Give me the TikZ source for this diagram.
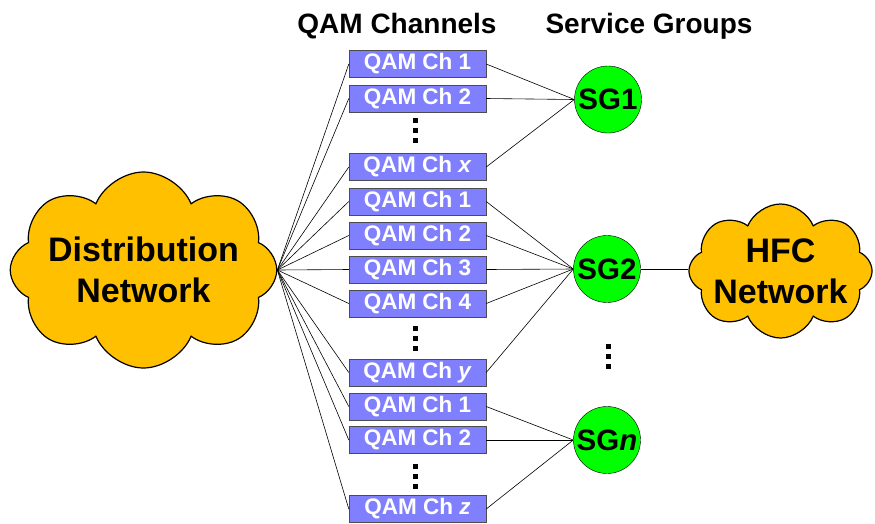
\documentclass[tikz,border=0pt]{standalone}
\usepackage{fontspec}
\setmainfont{Liberation Sans}
\usetikzlibrary{shapes.symbols}
\definecolor{qamblue}{HTML}{8080FF}
\definecolor{sggreen}{HTML}{00FF00}
\definecolor{cloudyellow}{HTML}{FFC000}
\tikzset{
  qam/.style={draw=black!70, fill=qamblue, text=white, inner sep=0pt,
    minimum width=137pt, minimum height=27pt,
    font=\fontsize{22.5}{22.5}\selectfont\bfseries},
  sg/.style={circle, draw, fill=sggreen, minimum size=67pt, inner sep=0pt,
    font=\fontsize{29.5}{29.5}\selectfont\bfseries},
  net/.style={cloud, cloud puffs=8, cloud puff arc=135, cloud ignores aspect,
    draw, line width=1.2pt, fill=cloudyellow, align=center, inner sep=0pt,
    font=\fontsize{34}{41}\selectfont\bfseries},
  head/.style={anchor=base, font=\fontsize{28}{28}\selectfont\bfseries},
  link/.style={line width=0.6pt},
}
% three small squares as vertical dots
\newcommand{\dotcol}[2]{\foreach \d in {-10,0,10}
  \fill[shift={(#1,#2)}] (-2.5,\d-2.5) rectangle ++(5,5);}
\begin{document}
\begin{tikzpicture}[x=1pt,y=-1pt]
  \useasboundingbox (0,0) rectangle (875,523);
  % headers
  \node[head] (qamhead) at (397,33) {QAM Channels};
  \node[head] (sghead) at (649,33) {Service Groups};
  % networks and service groups
  \node[net, inner xsep=-2.5pt, minimum width=261pt, minimum height=196pt] (dist) at (143.5,270) {Distribution\\Network};
  \node[net, inner xsep=-6pt, minimum width=163pt, minimum height=134pt] (hfc) at (780.5,271) {HFC\\Network};
  \node[sg] (sg1) at (608,99.5) {SG1};
  \node[sg] (sg2) at (607,269) {SG2};
  \node[sg] (sgn) at (607,440) {SG\textit{n}};
  % qam channels
  \node[qam] (a1) at (417.5,64) {QAM Ch 1};
  \node[qam] (a2) at (417.5,98.5) {QAM Ch 2};
  \node[qam] (ax) at (417.5,167) {QAM Ch \textit{x}};
  \node[qam] (b1) at (417.5,201.5) {QAM Ch 1};
  \node[qam] (b2) at (417.5,235.5) {QAM Ch 2};
  \node[qam] (b3) at (417.5,269.5) {QAM Ch 3};
  \node[qam] (b4) at (417.5,303.5) {QAM Ch 4};
  \node[qam] (by) at (417.5,372.5) {QAM Ch \textit{y}};
  \node[qam] (c1) at (417.5,406.5) {QAM Ch 1};
  \node[qam] (c2) at (417.5,440) {QAM Ch 2};
  \node[qam] (cz) at (417.5,509) {QAM Ch \textit{z}};
  \dotcol{415}{130}
  \dotcol{415}{338}
  \dotcol{415}{476}
  \dotcol{608}{356}
  % connectors
  \foreach \q in {a1,a2,ax,b1,b2,b3,b4,by,c1,c2,cz}
    \draw[link] (dist.east) -- (\q.west);
  \foreach \q in {a1,a2,ax} \draw[link] (\q.east) -- (sg1.west);
  \foreach \q in {b1,b2,b3,b4,by} \draw[link] (\q.east) -- (sg2.west);
  \foreach \q in {c1,c2,cz} \draw[link] (\q.east) -- (sgn.west);
  \draw[link] (sg2.east) -- (sg2.east -| hfc.west);
\end{tikzpicture}
\end{document}
